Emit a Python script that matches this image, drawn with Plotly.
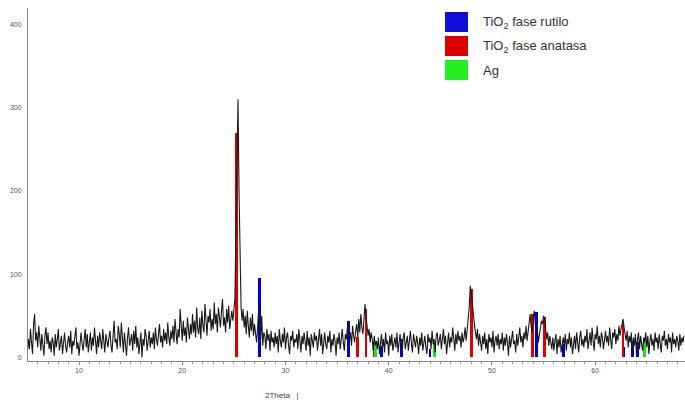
import numpy as np
import plotly.graph_objects as go

# ---- data ----
x_start = 5.0
x_step = 0.1
counts = [
    6, 22, 10, 34, 18, 4, 40, 52, 20, 30, 12, 38, 24, 8, 28, 14, 2, 26, 36, 16,
    30, 10, 20, 6, 24, 18, 2, 28, 12, 22, 34, 8, 16, 26, 4, 20, 30, 14, 6, 18,
    26, 12, 32, 4, 20, 14, 28, 36, 10, 18, 2, 24, 30, 16, 8, 22, 34, 12, 28, 6,
    18, 30, 8, 24, 14, 36, 20, 4, 26, 12, 30, 22, 10, 34, 16, 6, 28, 20, 12, 24,
    32, 14, 6, 26, 44, 18, 22, 10, 38, 28, 12, 42, 20, 6, 30, 16, 2, 24, 36, 14,
    20, 28, 8, 32, 16, 38, 12, 24, 4, 18, 30, 0, 22, 14, 34, 26, 8, 20, 32, 12,
    24, 16, 30, 10, 36, 22, 14, 28, 40, 18, 26, 12, 34, 20, 30, 16, 42, 24, 14, 32,
    22, 38, 18, 46, 28, 16, 34, 24, 58, 30, 20, 44, 26, 36, 18, 48, 32, 22, 40, 28,
    52, 30, 44, 24, 60, 34, 28, 48, 22, 56, 38, 30, 64, 36, 26, 50, 42, 58, 32, 46,
    34, 66, 40, 52, 30, 60, 44, 36, 56, 70, 38, 48, 30, 58, 42, 62, 34, 48, 56, 44,
    60, 70, 150, 270, 310, 200, 90, 60, 44, 58, 36, 50, 28, 56, 38, 24, 48, 32, 52, 26,
    40, 30, 18, 36, 58, 44, 22, 50, 14, 30, 26, 10, 34, 20, 28, 8, 32, 18, 24, 12,
    30, 16, 26, 6, 34, 20, 12, 28, 18, 36, 10, 24, 30, 14, 4, 26, 20, 32, 12, 22,
    18, 28, 10, 34, 22, 6, 26, 16, 30, 20, 8, 32, 14, 24, 2, 28, 18, 12, 30, 20,
    26, 8, 22, 34, 14, 28, 4, 20, 30, 16, 10, 26, 18, 32, 6, 22, 14, 28, 20, 2,
    24, 16, 30, 10, 26, 34, 18, 8, 28, 22, 36, 44, 20, 30, 14, 38, 26, 18, 32, 40,
    24, 46, 30, 52, 36, 28, 44, 64, 50, 40, 26, 34, 18, 30, 22, 8, 26, 14, 20, 10,
    24, 4, 18, 28, 12, 22, 6, 30, 16, 20, 2, 26, 14, 28, 8, 18, 24, 12, 30, 6,
    20, 28, 14, 4, 24, 30, 10, 18, 26, 8, 22, 32, 16, 6, 28, 20, 12, 26, 18, 4,
    24, 14, 30, 8, 20, 26, 12, 4, 28, 18, 24, 10, 32, 16, 22, 6, 26, 30, 14, 20,
    28, 10, 22, 34, 16, 26, 4, 20, 30, 12, 24, 18, 36, 22, 8, 28, 16, 32, 20, 26,
    12, 30, 18, 24, 36, 20, 34, 46, 60, 86, 78, 64, 48, 40, 30, 22, 34, 14, 28, 20,
    8, 26, 16, 30, 10, 22, 4, 28, 18, 24, 12, 32, 6, 20, 26, 14, 28, 10, 22, 16,
    30, 8, 24, 14, 28, 18, 2, 26, 12, 22, 32, 16, 20, 6, 28, 14, 24, 36, 18, 26,
    12, 30, 22, 38, 20, 34, 44, 52, 36, 30, 48, 56, 40, 26, 32, 18, 28, 36, 44, 40,
    50, 46, 36, 22, 30, 14, 26, 18, 10, 24, 8, 20, 28, 4, 22, 12, 26, 6, 18, 24,
    14, 28, 8, 22, 16, 30, 12, 24, 4, 20, 26, 10, 30, 18, 6, 24, 32, 14, 22, 12,
    26, 18, 34, 10, 24, 30, 14, 36, 20, 8, 28, 22, 38, 16, 26, 12, 30, 24, 10, 20,
    32, 18, 26, 14, 36, 22, 10, 30, 24, 34, 16, 28, 20, 38, 26, 34, 40, 46, 36, 28,
    20, 32, 12, 26, 18, 30, 6, 24, 14, 28, 2, 22, 30, 10, 26, 16, 8, 24, 18, 30,
    12, 26, 4, 20, 28, 14, 22, 8, 30, 18, 24, 10, 28, 16, 6, 26, 20, 32, 14, 22,
    10, 28, 18, 24, 6, 30, 16, 22, 12, 26, 20, 8, 28, 14, 24, 18, 26,
]

rutile_pos = [27.45, 36.1, 39.3, 41.2, 44.0, 54.3, 56.9, 62.75, 63.6, 64.1]
rutile_h = [95, 44, 14, 22, 10, 55, 16, 12, 20, 18]

anatase_pos = [25.28, 36.95, 37.8, 38.58, 48.05, 53.89, 55.06, 62.69]
anatase_h = [270, 24, 58, 18, 82, 52, 48, 40]

ag_pos = [38.7, 44.4, 64.8]
ag_h = [18, 20, 20]

legend_labels = ["TiO<sub>2</sub> fase rutilo", "TiO<sub>2</sub> fase anatasa", "Ag"]
legend_colors = ["#1010d8", "#dd0000", "#22ee22"]

x_ticks = [10, 20, 30, 40, 50, 60]
y_ticks = [0, 100, 200, 300, 400]

two_theta = x_start + x_step * np.arange(len(counts))

fig = go.Figure()
fig.add_trace(go.Scatter(x=two_theta, y=counts, mode="lines",
                         line=dict(color="#1a1a1a", width=1.1), showlegend=False))
for pos, h, col in [(rutile_pos, rutile_h, "#0000d0"),
                    (anatase_pos, anatase_h, "#e00000"),
                    (ag_pos, ag_h, "#20e020")]:
    fig.add_trace(go.Bar(x=pos, y=h, width=0.28, marker=dict(color=col, line=dict(width=0)),
                         showlegend=False))

# plot area pixel geometry
L, R, T, B = 28, 685, 8, 361
def px(xp):
    return (xp - L) / (R - L)
def py(yp):
    return (B - yp) / (B - T)

shapes = []
annotations = []
tops = [12, 36, 60]
for i, (lab, col) in enumerate(zip(legend_labels, legend_colors)):
    y0 = tops[i]
    shapes.append(dict(type="rect", xref="paper", yref="paper",
                       x0=px(445), x1=px(468), y0=py(y0 + 20), y1=py(y0),
                       fillcolor=col, line=dict(width=0)))
    annotations.append(dict(xref="paper", yref="paper", x=px(481), y=py(y0 + 10),
                            text=lab, showarrow=False, xanchor="left", yanchor="middle",
                            font=dict(family="Liberation Sans Narrow, Liberation Sans, Arial",
                                      size=13, color="#333333")))
annotations.append(dict(xref="paper", yref="paper", x=px(282), y=py(395),
                        text="2Theta &nbsp;&nbsp;|", showarrow=False,
                        xanchor="center", yanchor="middle",
                        font=dict(family="Liberation Sans, Arial", size=8, color="#444444")))

fig.update_layout(
    width=685, height=402,
    margin=dict(l=L, r=0, t=T, b=402 - B),
    paper_bgcolor="white", plot_bgcolor="white",
    barmode="overlay", bargap=0,
    shapes=shapes, annotations=annotations,
    font=dict(family="Liberation Sans, Arial", size=7, color="#555555"),
)
fig.update_xaxes(range=[5.06, 68.7], tickvals=x_ticks, showgrid=False, zeroline=False,
                 showline=True, linecolor="#888888", linewidth=1,
                 ticks="outside", ticklen=3, tickcolor="#888888",
                 minor=dict(dtick=1, ticks="outside", ticklen=2, tickcolor="#999999"),
                 tickfont=dict(size=7, color="#555555"))
fig.update_yaxes(range=[-4.3, 419.5], tickvals=y_ticks, showgrid=False, zeroline=False,
                 showline=True, linecolor="#888888", linewidth=1,
                 ticks="", ticklabelstandoff=4,
                 tickfont=dict(size=7, color="#555555"))

fig.write_html("out.html")
